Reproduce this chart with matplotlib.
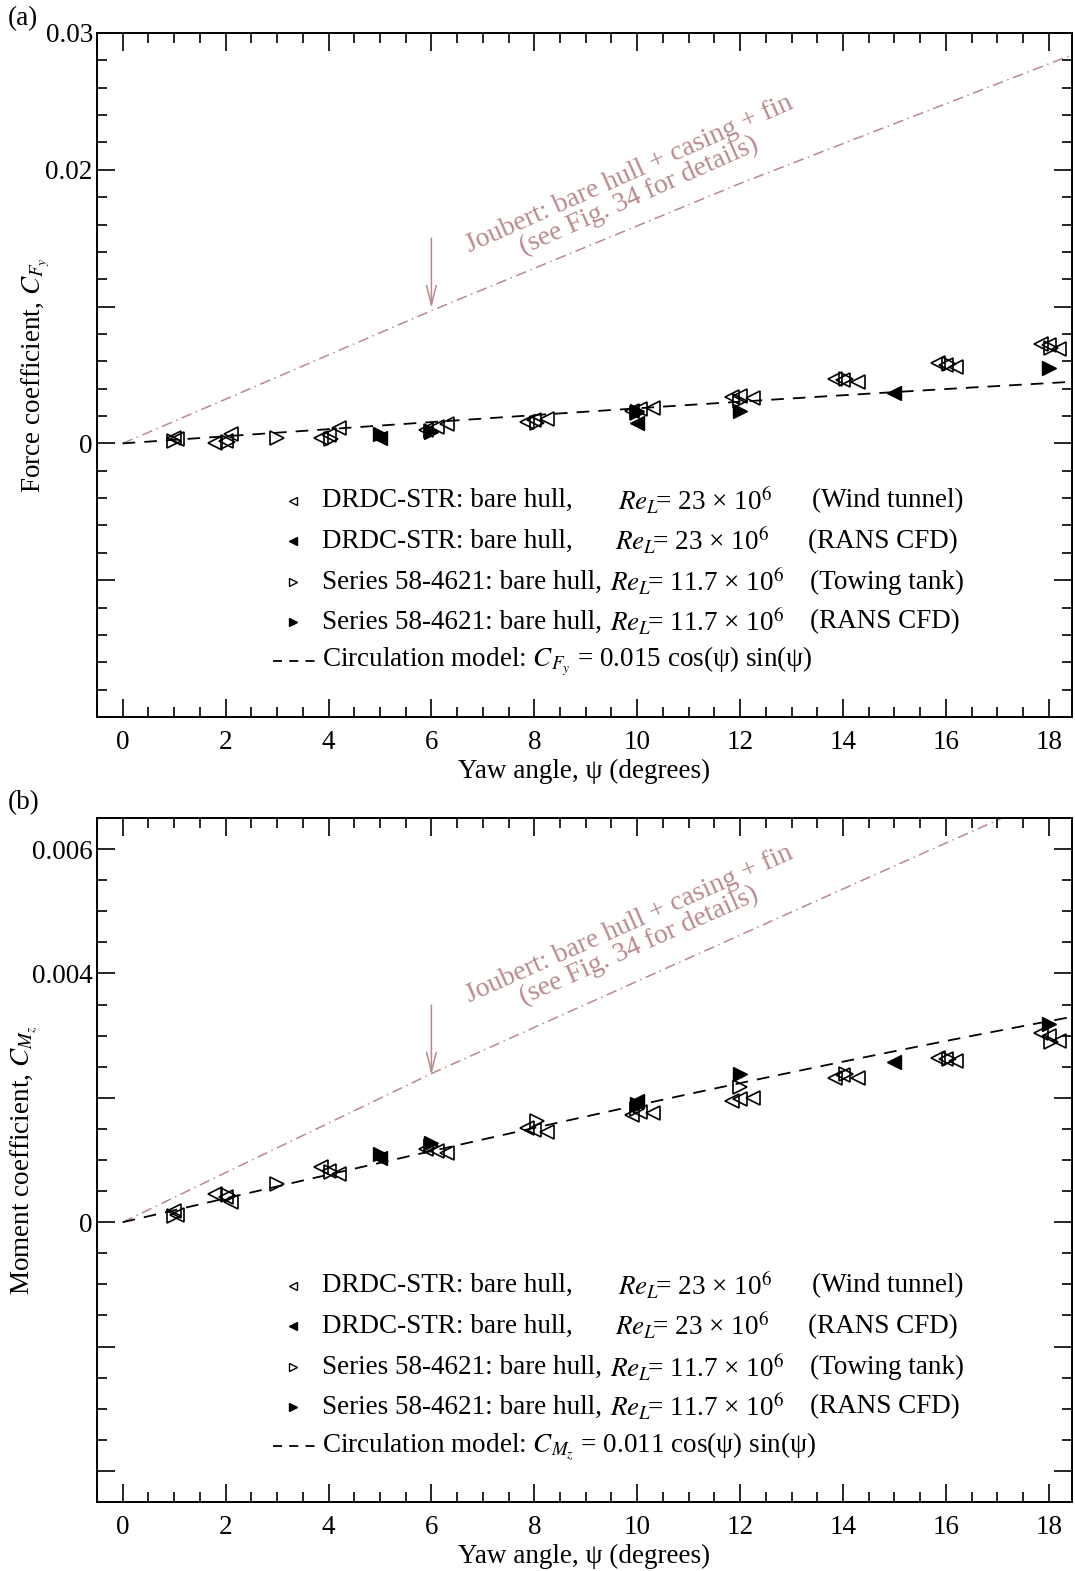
import numpy as np
import matplotlib
matplotlib.use("Agg")
import matplotlib.pyplot as plt
from matplotlib.ticker import MultipleLocator

plt.rcParams['font.family'] = ['Liberation Serif', 'DejaVu Serif']
plt.rcParams['mathtext.fontset'] = 'stix'

# DRDC-STR bare hull, wind tunnel (repeat runs at each angle)
psi_wt = [1.0, 1.05, 1.8, 2.0, 2.1, 3.85, 4.0, 4.2, 5.9, 6.1, 6.3, 7.85, 8.0, 8.25,
          9.9, 10.05, 10.3, 11.85, 12.0, 12.25, 13.85, 14.0, 14.3, 15.85, 16.0, 16.2,
          17.85, 18.0, 18.2]
cf_wt = [0.0004, 0.0003, 0.0000, 0.0002, 0.0007, 0.0004, 0.0006, 0.0011, 0.0010, 0.0012,
         0.0014, 0.0016, 0.0017, 0.0018, 0.0024, 0.0025, 0.0026, 0.0034, 0.0035, 0.0033,
         0.0047, 0.0046, 0.0045, 0.0059, 0.0057, 0.0056, 0.0073, 0.0072, 0.0069]
cm_wt = [0.00018, 0.00012, 0.00045, 0.00040, 0.00032, 0.00088, 0.00083, 0.00078, 0.00118,
         0.00115, 0.00112, 0.00152, 0.00148, 0.00145, 0.00172, 0.00178, 0.00176, 0.00195,
         0.00198, 0.00200, 0.00232, 0.00236, 0.00232, 0.00264, 0.00262, 0.00260, 0.00305,
         0.00300, 0.00292]

# DRDC-STR bare hull, RANS CFD
psi_drdc_cfd = [5.0, 10.0, 15.0]
cf_drdc_cfd = [0.0004, 0.0015, 0.0037]
cm_drdc_cfd = [0.00103, 0.00195, 0.00257]

# Series 58-4621 bare hull, towing tank
psi_tt = [1.0, 2.05, 3.0, 4.05, 6.0, 8.05, 10.0, 12.0, 14.05, 16.05, 18.05]
cf_tt = [0.0002, 0.0001, 0.0004, 0.0003, 0.0009, 0.0015, 0.0022, 0.0031, 0.0047, 0.0058, 0.0070]
cm_tt = [0.00010, 0.00044, 0.00062, 0.00080, 0.00122, 0.00162, 0.00182, 0.00218, 0.00238,
         0.00262, 0.00290]

# Series 58-4621 bare hull, RANS CFD
psi_s58_cfd = [5.0, 6.0, 10.0, 12.0, 18.0]
cf_s58_cfd = [0.0007, 0.0008, 0.0024, 0.0024, 0.0055]
cm_s58_cfd = [0.00110, 0.00128, 0.00190, 0.00238, 0.00318]

# Joubert: bare hull + casing + fin
psi_joubert_f = [0.0, 6.0, 12.0, 18.45]
cf_joubert = [0.0, 0.0097, 0.0190, 0.0284]
psi_joubert_m = [0.0, 6.0, 14.0, 18.45]
cm_joubert = [0.0, 0.00239, 0.00536, 0.00700]

# circulation model coefficients
k_force = 0.015
k_moment = 0.011

pink = '#b98a8c'

fig = plt.figure(figsize=(10.75, 15.71), dpi=100)
ax_a = fig.add_axes([0.0902, 0.5436, 0.9070, 0.4354])
ax_b = fig.add_axes([0.0902, 0.0439, 0.9070, 0.4354])

psi_model = np.linspace(0, 18.5, 200)
model_shape = np.cos(np.radians(psi_model)) * np.sin(np.radians(psi_model))

legend_rows = [
    ('<', 'none', 'DRDC-STR: bare hull,', 0.534, r'$Re_L\!$= 23 × 10$^6$', 0.733, '(Wind tunnel)'),
    ('<', 'black', 'DRDC-STR: bare hull,', 0.531, r'$Re_L\!$= 23 × 10$^6$', 0.729, '(RANS CFD)'),
    ('>', 'none', 'Series 58-4621: bare hull,', 0.526, r'$Re_L\!$= 11.7 × 10$^6$', 0.731, '(Towing tank)'),
    ('>', 'black', 'Series 58-4621: bare hull,', 0.526, r'$Re_L\!$= 11.7 × 10$^6$', 0.731, '(RANS CFD)'),
]
row_y = [0.316, 0.257, 0.197, 0.139, 0.082]
fs = 19.5
fs_key = 19.5


def draw_panel(ax, wt, dcfd, tt, scfd, jpsi, jval, k, ylim, major, minor, labeled,
               ylabel, model_label, arrow_top, arrow_tip, text_xy):
    ax.plot(jpsi, jval, color=pink, lw=1.1, dashes=[7, 3, 1, 3], zorder=1)
    ax.plot(psi_model, k * model_shape, color='black', lw=1.3, dashes=[7, 5], zorder=2)

    ms = 10
    ax.plot(psi_wt, wt, ls='none', marker='<', ms=ms, mfc='none', mec='black', mew=1.2, zorder=3)
    ax.plot(psi_tt, tt, ls='none', marker='>', ms=ms, mfc='none', mec='black', mew=1.2, zorder=3)
    ax.plot(psi_drdc_cfd, dcfd, ls='none', marker='<', ms=ms, mfc='black', mec='black', zorder=4)
    ax.plot(psi_s58_cfd, scfd, ls='none', marker='>', ms=ms, mfc='black', mec='black', zorder=4)

    ax.annotate('', xy=(6, arrow_tip), xytext=(6, arrow_top),
                arrowprops=dict(arrowstyle='->,head_length=1.4,head_width=0.35',
                                color=pink, lw=1.1, shrinkA=0, shrinkB=0))
    ax.text(text_xy[0], text_xy[1], 'Joubert: bare hull + casing + fin\n(see Fig. 34 for details)',
            color=pink, fontsize=20, rotation=24, rotation_mode='anchor',
            ha='center', va='center', multialignment='center', linespacing=0.95)

    ax.set_xlim(-0.5, 18.45)
    ax.set_ylim(*ylim)
    ax.xaxis.set_major_locator(MultipleLocator(2))
    ax.xaxis.set_minor_locator(MultipleLocator(0.5))
    ax.yaxis.set_major_locator(MultipleLocator(major))
    ax.yaxis.set_minor_locator(MultipleLocator(minor))
    ticks = [t for t in ax.get_yticks() if ylim[0] - 1e-9 <= t <= ylim[1] + 1e-9]
    ax.set_yticks(ticks)
    ax.set_yticklabels([labeled.get(round(t, 4), '') for t in ticks])
    ax.set_xticks(range(0, 19, 2))
    ax.tick_params(which='both', direction='in', top=True, right=True, width=1.2, labelsize=fs)
    ax.tick_params(which='major', length=13)
    ax.tick_params(which='minor', length=7)
    ax.tick_params(axis='x', pad=9)
    ax.tick_params(axis='y', pad=3)
    for sp in ax.spines.values():
        sp.set_linewidth(1.4)

    ax.set_xlabel('Yaw angle, ψ (degrees)', fontsize=fs, labelpad=3)
    ax.set_ylabel(ylabel, fontsize=fs, labelpad=-5)

    # hand-built key
    tr = ax.transAxes
    for (mk, fc, name, xre, re, xp, src), y in zip(legend_rows, row_y):
        ax.plot([0.201], [y], transform=tr, marker=mk, ms=6, mfc=fc, mec='black',
                mew=1.0, ls='none', clip_on=False)
        ax.text(0.231, y, name, transform=tr, fontsize=fs_key, va='center')
        ax.text(xre, y, re, transform=tr, fontsize=fs_key, va='center')
        ax.text(xp, y, src, transform=tr, fontsize=fs_key, va='center')
    ax.plot([0.181, 0.224], [row_y[4], row_y[4]], transform=tr, color='black', lw=1.3,
            dashes=[5, 4])
    ax.text(0.231, row_y[4], model_label, transform=tr, fontsize=fs_key, va='center')


draw_panel(ax_a, cf_wt, cf_drdc_cfd, cf_tt, cf_s58_cfd, psi_joubert_f, cf_joubert, k_force,
           (-0.02, 0.03), 0.01, 0.002, {0.0: '0', 0.02: '0.02', 0.03: '0.03'},
           r'Force coefficient, $C_{F_y}$',
           r'Circulation model: $C_{F_y}$ = 0.015 cos(ψ) sin(ψ)',
           0.0150, 0.0099, (9.94, 0.0189))

draw_panel(ax_b, cm_wt, cm_drdc_cfd, cm_tt, cm_s58_cfd, psi_joubert_m, cm_joubert, k_moment,
           (-0.0045, 0.0065), 0.002, 0.0005, {0.0: '0', 0.004: '0.004', 0.006: '0.006'},
           r'Moment coefficient, $C_{M_z}$',
           r'Circulation model: $C_{M_z}$ = 0.011 cos(ψ) sin(ψ)',
           0.00349, 0.00237, (9.94, 0.00462))

fig.text(0.007, 0.988, '(a)', fontsize=fs, va='center')
fig.text(0.007, 0.489, '(b)', fontsize=fs, va='center')

fig.savefig('out.png', dpi=100)
